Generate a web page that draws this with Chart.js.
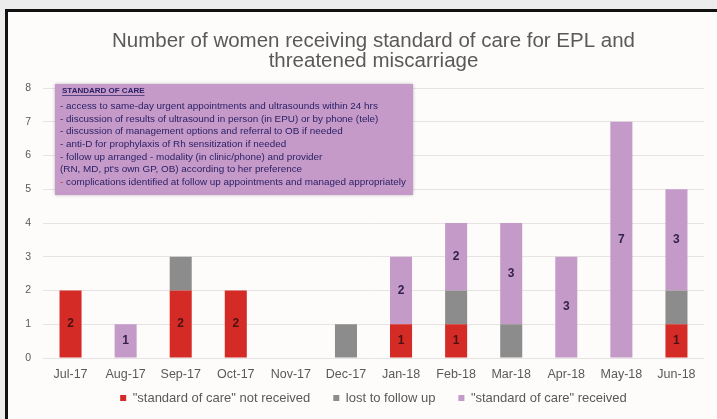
<!DOCTYPE html>
<html>
<head>
<meta charset="utf-8">
<script src="https://cdn.jsdelivr.net/npm/chart.js@4"></script>
<style>
    html, body { margin: 0; padding: 0; background: #ececec; }
    #frame {
        position: absolute; left: 5px; top: 9px;
        width: 712px; height: 410px;
        border-left: 3px solid #111; border-top: 3px solid #111;
        background: #fdfcfa;
    }
    #chart { display: block; }
</style>
</head>
<body>
<div id="frame"><canvas id="chart" width="709" height="407"></canvas></div>
<script>
// Monthly counts, Jul-17 to Jun-18
const months = ['Jul-17', 'Aug-17', 'Sep-17', 'Oct-17', 'Nov-17', 'Dec-17',
                'Jan-18', 'Feb-18', 'Mar-18', 'Apr-18', 'May-18', 'Jun-18'];
const notReceived = [2, 0, 2, 2, 0, 0, 1, 1, 0, 0, 0, 1];
const lostToFollowUp = [0, 0, 1, 0, 0, 1, 0, 1, 1, 0, 0, 1];
const received = [0, 1, 0, 0, 0, 0, 2, 2, 3, 3, 7, 3];
const yTicks = [0, 1, 2, 3, 4, 5, 6, 7, 8];

const careNotes = [
    '- access to same-day urgent appointments and ultrasounds within 24 hrs',
    '- discussion of results of ultrasound in person (in EPU) or by phone (tele)',
    '- discussion of management options and referral to OB if needed',
    '- anti-D for prophylaxis of Rh sensitization if needed',
    '- follow up arranged - modality (in clinic/phone) and provider',
    '(RN, MD, pt\'s own GP, OB) according to her preference',
    '- complications identified at follow up appointments and managed appropriately'
];

const GREY_TEXT = '#595959';
const FONT = '"Liberation Sans", Arial, sans-serif';

// numbers written inside the red and purple segments
const segmentLabels = {
    id: 'segmentLabels',
    afterDatasetsDraw(chart) {
        const ctx = chart.ctx;
        ctx.save();
        ctx.font = 'bold 12px ' + FONT;
        ctx.textAlign = 'center';
        ctx.textBaseline = 'middle';
        [0, 2].forEach(di => {
            const meta = chart.getDatasetMeta(di);
            meta.data.forEach((bar, i) => {
                const v = chart.data.datasets[di].data[i];
                if (!v) return;
                const p = bar.getProps(['x', 'y', 'base'], true);
                ctx.fillStyle = di === 0 ? '#4a1212' : '#35224a';
                ctx.fillText(String(v), p.x, (p.y + p.base) / 2);
            });
        });
        ctx.restore();
    }
};

// "standard of care" note box in the upper left of the plot
const careBox = {
    id: 'careBox',
    afterDraw(chart) {
        const ctx = chart.ctx;
        const a = chart.chartArea;
        const x = a.left + 12, y = a.top - 4, w = 358, h = 111;
        ctx.save();
        ctx.shadowColor = 'rgba(80, 40, 90, 0.35)';
        ctx.shadowBlur = 3;
        ctx.fillStyle = '#c59ac9';
        ctx.fillRect(x, y, w, h);
        ctx.shadowColor = 'transparent';
        ctx.textBaseline = 'middle';
        ctx.fillStyle = '#2b2165';
        ctx.font = 'bold 8px ' + FONT;
        ctx.fillText('STANDARD OF CARE', x + 7, y + 7);
        ctx.fillRect(x + 7, y + 11, ctx.measureText('STANDARD OF CARE').width, 0.7);
        ctx.font = '9.9px ' + FONT;
        careNotes.forEach((line, i) => {
            const ly = y + 22.5 + i * 12.6;
            if (i === careNotes.length - 1) {
                ctx.fillStyle = '#c0303a';
                ctx.fillText('-', x + 5, ly);
                ctx.fillStyle = '#2b2165';
                ctx.fillText(line.slice(1), x + 5 + ctx.measureText('-').width, ly);
            } else {
                ctx.fillText(line, x + 5, ly);
            }
        });
        ctx.restore();
    }
};

// keep wide gaps between legend items but sit the legend close under the month labels
const legendNudge = {
    id: 'legendNudge',
    beforeLayout(chart) {
        const lg = chart.legend;
        if (lg && !lg._trimmed) {
            const fit = lg.fit;
            lg.fit = function () { fit.call(this); this.height = 33; };
            lg._trimmed = true;
        }
    },
    afterLayout(chart) {
        chart.legend.top -= 13.5;
    }
};

new Chart(document.getElementById('chart'), {
    type: 'bar',
    data: {
        labels: months,
        datasets: [
            { label: '"standard of care" not received', data: notReceived, backgroundColor: '#d42b26' },
            { label: 'lost to follow up', data: lostToFollowUp, backgroundColor: '#8c8c8c' },
            { label: '"standard of care" received', data: received, backgroundColor: '#c49ac9' }
        ]
    },
    options: {
        responsive: false,
        animation: false,
        layout: { padding: { left: 0, right: 13, top: 0, bottom: 4 } },
        datasets: { bar: { barPercentage: 0.8, categoryPercentage: 0.5 } },
        scales: {
            x: {
                stacked: true,
                afterFit(scale) { scale.height = 24; },
                grid: { display: false, drawTicks: false },
                border: { display: false },
                ticks: { color: GREY_TEXT, font: { size: 12.5, family: FONT }, maxRotation: 0, padding: 9.5 }
            },
            y: {
                stacked: true,
                min: 0, max: 8,
                afterBuildTicks(scale) { scale.ticks = yTicks.map(v => ({ value: v })); },
                afterFit(scale) { scale.width = 35; },
                grid: { color: '#e6e4e2', drawTicks: false },
                border: { display: false },
                ticks: { color: GREY_TEXT, font: { size: 10.5, family: FONT }, padding: 12 }
            }
        },
        plugins: {
            title: {
                display: true,
                fullSize: false,
                text: ['Number of women receiving standard of care for EPL and', 'threatened miscarriage'],
                color: GREY_TEXT,
                font: { size: 20.5, weight: 'normal', family: FONT, lineHeight: 1.0 },
                padding: { top: 19, bottom: 16 }
            },
            legend: {
                position: 'bottom',
                fullSize: false,
                labels: {
                    color: GREY_TEXT,
                    font: { size: 13, family: FONT },
                    boxWidth: 6, boxHeight: 6,
                    padding: 23
                }
            },
            tooltip: { enabled: false }
        }
    },
    plugins: [segmentLabels, careBox, legendNudge]
});
</script>
</body>
</html>
